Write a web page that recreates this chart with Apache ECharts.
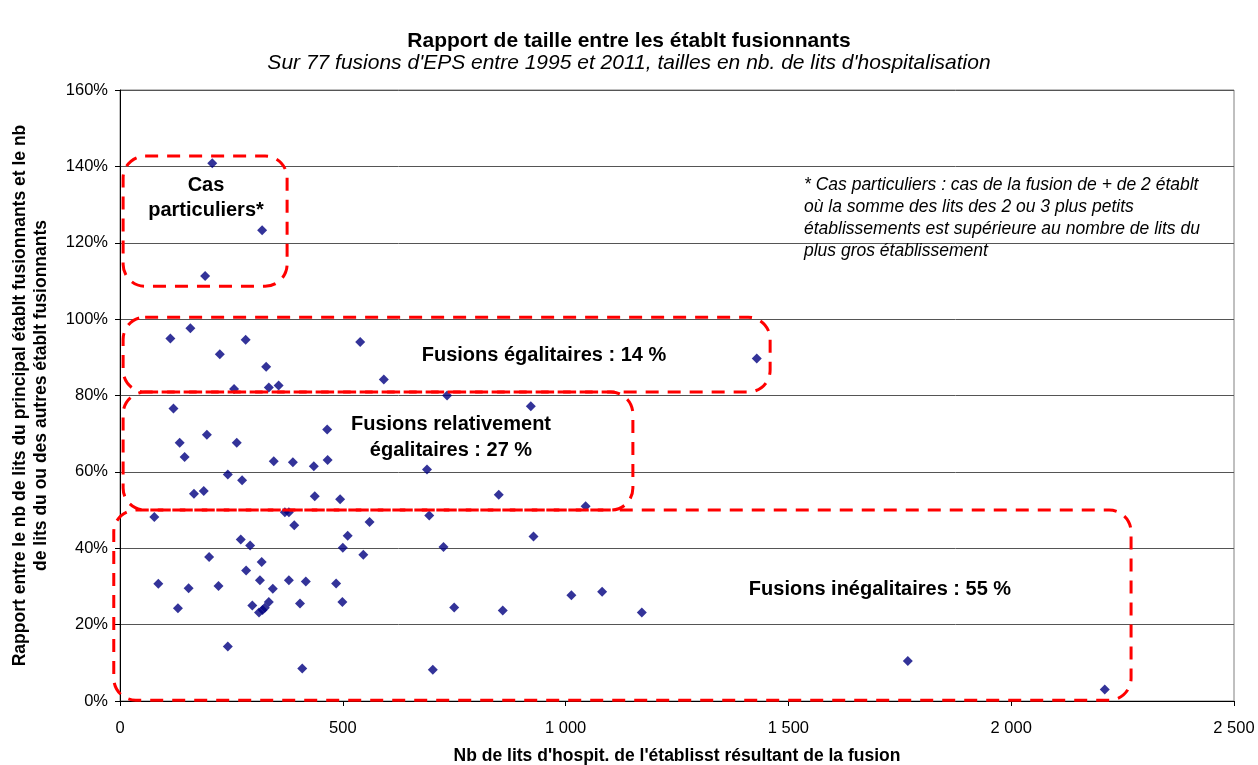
<!DOCTYPE html>
<html>
<head>
<meta charset="utf-8">
<script src="https://cdn.jsdelivr.net/npm/echarts@6/dist/echarts.min.js"></script>
<style>
  html, body { margin: 0; background: #fff; }
  #chart { width: 1258px; height: 765px; }
</style>
</head>
<body>
<div id="chart"></div>
<script>
// nb de lits de l'établissement résultant de la fusion
const beds = [
  207, 319, 191, 113, 158, 224, 282, 328, 256, 334, 356, 539, 592, 1429, 734, 922,
  120, 134, 145, 195, 262, 465, 345, 388, 435, 466, 242, 274, 689, 166, 188, 437,
  494, 850, 1045, 77, 370, 379, 391, 694, 560, 511, 500, 928, 726, 546, 271, 292,
  200, 318, 283, 314, 86, 154, 221, 379, 417, 485, 343, 404, 499, 130, 297, 334,
  325, 312, 320, 750, 859, 1013, 1082, 1171, 242, 409, 702, 1768, 2210
];
// rapport principal / autres (%)
const ratio = [
  140.8, 123.3, 111.3, 94.9, 97.6, 90.8, 94.6, 87.5, 81.7, 82.1, 82.6, 94.0, 84.2, 89.7, 80.0, 77.2,
  76.6, 67.6, 63.9, 69.7, 67.6, 71.1, 62.8, 62.5, 61.5, 63.1, 59.3, 57.8, 60.6, 54.3, 55.0, 53.6,
  52.8, 54.0, 51.0, 48.2, 49.4, 49.4, 46.0, 48.6, 46.9, 43.3, 40.1, 43.1, 40.3, 38.3, 42.3, 40.7,
  37.7, 36.4, 34.2, 31.6, 30.7, 29.5, 30.1, 31.6, 31.3, 30.8, 29.4, 25.5, 25.9, 24.3, 25.0, 25.9,
  24.4, 23.2, 23.8, 24.5, 23.7, 27.7, 28.6, 23.2, 14.3, 8.5, 8.2, 10.5, 3.0
];

const xMax = 2500, xStep = 500;
const yMax = 160, yStep = 20;

// zones annotées (unités des axes)
const zones = [
  { x0: 7, x1: 375, y0: 108.6, y1: 142.7 },
  { x0: 7, x1: 1459, y0: 80.9, y1: 100.5 },
  { x0: 7, x1: 1151, y0: 50.0, y1: 80.9 },
  { x0: -14, x1: 2269, y0: 0.2, y1: 50.0 }
];

const FONT = "'Liberation Sans', Arial, sans-serif";
const chart = echarts.init(document.getElementById('chart'));

chart.setOption({
  animation: false,
  textStyle: { fontFamily: FONT },
  grid: {
    left: 120, right: 24, top: 90, bottom: 64,
    outerBoundsMode: 'none', containLabel: false,
    show: true, borderColor: '#808080', borderWidth: 1
  },
  xAxis: {
    type: 'value',
    min: 0, max: xMax, interval: xStep,
    name: "Nb de lits d'hospit. de l'établisst résultant de la fusion",
    nameLocation: 'middle',
    nameGap: 46,
    nameTextStyle: { fontFamily: FONT, fontSize: 17.5, fontWeight: 'bold', color: '#000' },
    axisLine: { lineStyle: { color: '#000' } },
    axisTick: { show: true, inside: false, length: 5, lineStyle: { color: '#000' } },
    axisLabel: {
      fontFamily: FONT, fontSize: 16.5, color: '#000', margin: 19,
      formatter: (v) => String(v).replace(/\B(?=(\d{3})+(?!\d))/g, ' ')
    },
    splitLine: { show: false }
  },
  yAxis: {
    type: 'value',
    min: 0, max: yMax, interval: yStep,
    name: 'Rapport entre le nb de lits du principal établt fusionnants et le nb\nde lits du ou des autres établt fusionnants',
    nameLocation: 'middle',
    nameGap: 68,
    nameRotate: 90,
    nameTextStyle: { fontFamily: FONT, fontSize: 17.5, fontWeight: 'bold', color: '#000', lineHeight: 21 },
    axisLine: { show: true, lineStyle: { color: '#000' } },
    axisTick: { show: true, length: 5, lineStyle: { color: '#000' } },
    axisLabel: { fontFamily: FONT, fontSize: 16.5, color: '#000', margin: 12, formatter: (v) => v + '%' },
    splitLine: { show: true, lineStyle: { color: '#555', width: 1 } }
  },
  series: [{
    type: 'scatter',
    symbol: 'diamond',
    symbolSize: 10,
    itemStyle: { color: '#000080' },
    data: beds.map((b, i) => [b, ratio[i]]),
    z: 3
  }]
});

// cadres pointillés + textes
const dash = { fill: 'none', stroke: '#ff0000', lineWidth: 3, lineDash: [13, 9] };
const rects = zones.map((z) => {
  const a = chart.convertToPixel({ gridIndex: 0 }, [z.x0, z.y1]);
  const b = chart.convertToPixel({ gridIndex: 0 }, [z.x1, z.y0]);
  return {
    type: 'rect', z: 10, silent: true,
    shape: { x: a[0], y: a[1], width: b[0] - a[0], height: b[1] - a[1], r: 22 },
    style: dash
  };
});

const txt = (text, x, y, font, lh, align) => ({
  type: 'text', z: 11, silent: true,
  style: {
    text, x, y, font, fill: '#000', lineHeight: lh,
    align: align || 'center', textAlign: align || 'center',
    verticalAlign: 'middle', textVerticalAlign: 'middle'
  }
});
const B20 = `bold 20px ${FONT}`;

chart.setOption({
  graphic: [
    ...rects,
    txt('Rapport de taille entre les établt fusionnants', 629, 41, `bold 21px ${FONT}`, 24),
    txt("Sur 77 fusions d'EPS entre 1995 et 2011, tailles en nb. de lits d'hospitalisation", 629, 63, `italic 21px ${FONT}`, 24),
    txt('Cas\nparticuliers*', 206, 198, B20, 25),
    txt('Fusions égalitaires : 14 %', 544, 355, B20, 25),
    txt('Fusions relativement\négalitaires : 27 %', 451, 437, B20, 26),
    txt('Fusions inégalitaires : 55 %', 880, 589, B20, 25),
    txt("* Cas particuliers : cas de la fusion de + de 2 établt\noù la somme des lits des 2 ou 3 plus petits\nétablissements est supérieure au nombre de lits du\nplus gros établissement",
      804, 218, `italic 17.5px ${FONT}`, 22, 'left')
  ]
});
</script>
</body>
</html>
